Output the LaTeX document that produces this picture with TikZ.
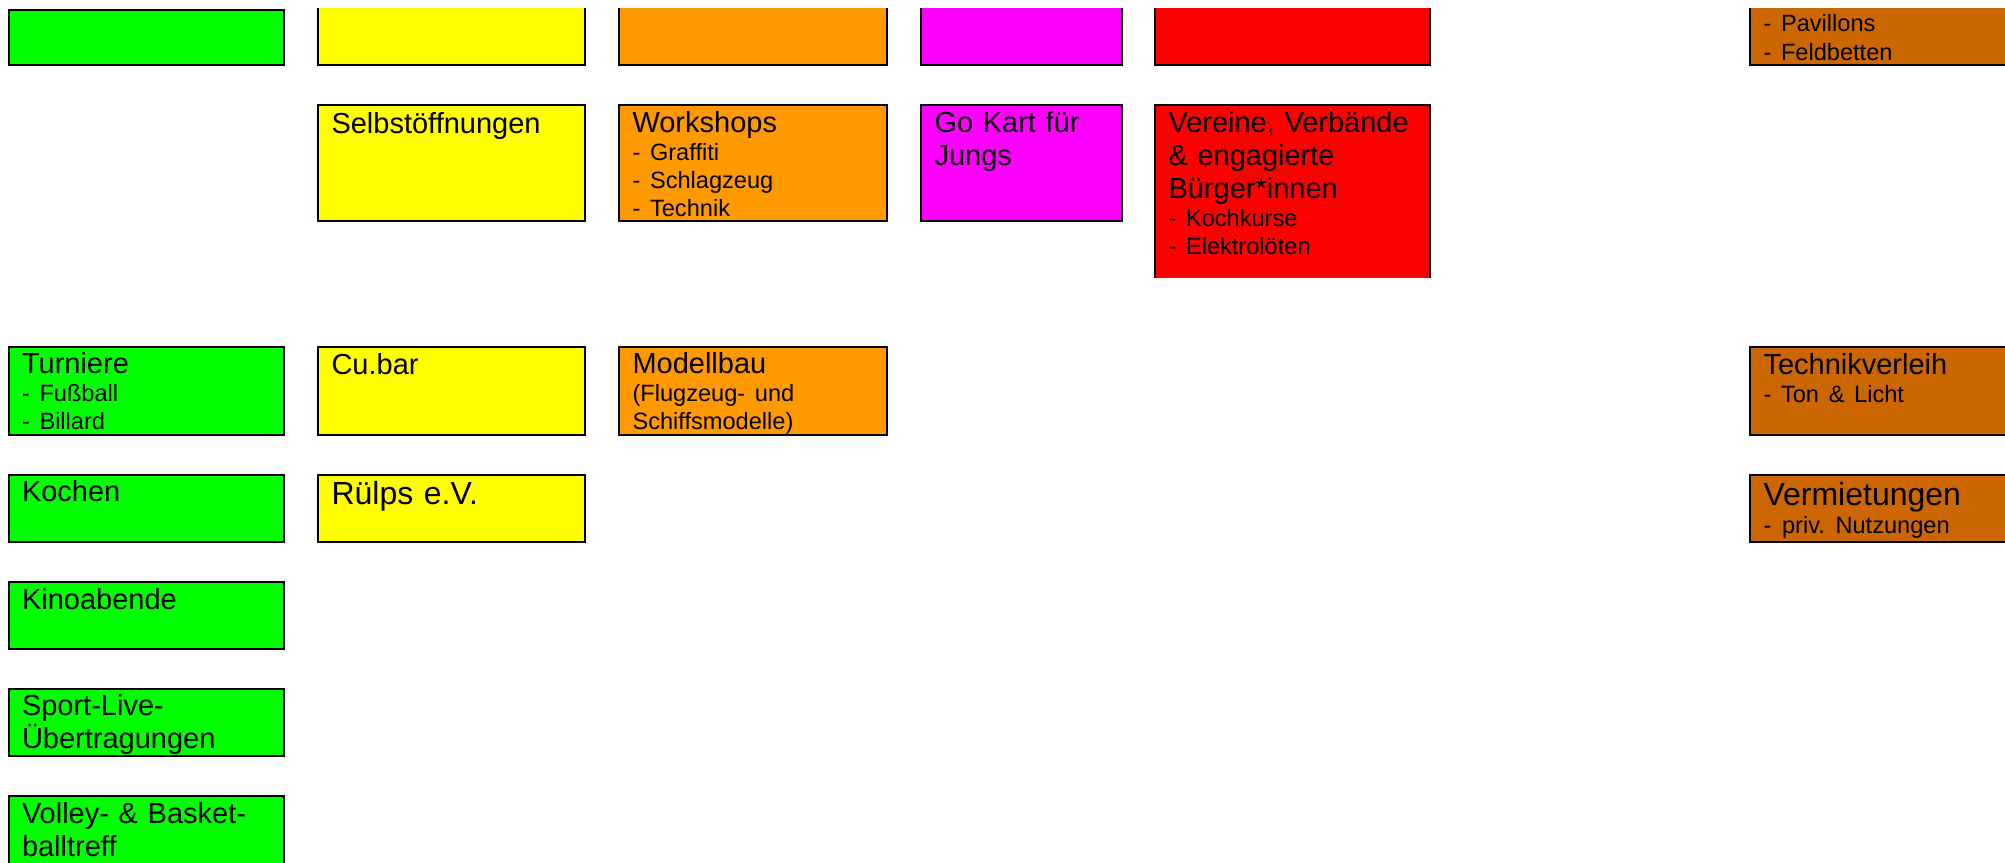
\documentclass[tikz,border=0pt]{standalone}
\usepackage{fontspec}
\setmainfont{Liberation Sans}
\usepackage{tikz}
\frenchspacing

\definecolor{cgreen}{HTML}{00FF00}
\definecolor{cyellow}{HTML}{FFFF00}
\definecolor{corange}{HTML}{FF9900}
\definecolor{cmagenta}{HTML}{FF00FF}
\definecolor{cred}{HTML}{FF0000}
\definecolor{cbrown}{HTML}{CC6600}
\newcommand{\bigtxt}{\fontsize{14.5pt}{16.5pt}\selectfont}
\newcommand{\smalltxt}{\fontsize{11.8pt}{14pt}\selectfont}
\newcommand{\hugetxt}{\fontsize{16pt}{18pt}\selectfont}

\begin{document}
\begin{tikzpicture}[x=0.5pt, y=-0.5pt,
    box/.style n args={3}{draw, line width=1pt, anchor=north west, outer sep=0pt,
      inner xsep=6.75pt, inner ysep=0pt, font=\bigtxt,
      text width={#1*0.5pt-13.5pt}, text height={#3*0.5pt}, text depth={(#2-#3)*0.5pt}}]

  \useasboundingbox (0,0) rectangle (2005,862);
  \clip (0,8) rectangle (2005,862);

  % top row, cut off by the page
  \node[box={275.5}{55.5}{27}, fill=cgreen] (topgreen) at (8.5,9.5) {};
  \node[box={267}{105}{27}, fill=cyellow] (topyellow) at (318,-40) {};
  \node[box={268}{105}{27}, fill=corange] (toporange) at (619,-40) {};
  \node[box={201}{105}{27}, fill=cmagenta] (topmagenta) at (921,-40) {};
  \node[box={275}{105}{27}, fill=cred] (topred) at (1155,-40) {};
  \node[box={290}{105}{72}, fill=cbrown] (topbrown) at (1750,-40) {\smalltxt - Pavillons\\- Feldbetten\par};

  % second row
  \node[box={267}{116}{28}, fill=cyellow] (selbst) at (318,105) {Selbstöffnungen};
  \node[box={268}{116}{27}, fill=corange] (workshops) at (619,105)
    {Workshops\par\smalltxt - Graffiti\\- Schlagzeug\\- Technik\par};
  \node[box={201}{116}{27}, fill=cmagenta] (gokart) at (921,105) {Go Kart für\\Jungs\par};
  \begin{scope}
    \clip (1100,0) rectangle (1500,277.5);
    \node[box={275}{200}{27}, fill=cred] (vereine) at (1155,105)
      {Vereine, Verbände\\\& engagierte\\Bürger*innen\par\smalltxt - Kochkurse\\- Elektrolöten\par};
  \end{scope}

  % lower rows
  \node[box={275.5}{88}{26}, fill=cgreen] (turniere) at (8.5,347)
    {Turniere\par\smalltxt - Fußball\\- Billard\par};
  \node[box={267}{88}{27}, fill=cyellow] (cubar) at (318,347) {Cu.bar};
  \node[box={268}{88}{26}, fill=corange] (modellbau) at (619,347)
    {Modellbau\par\smalltxt (Flugzeug- und\\Schiffsmodelle)\par};
  \node[box={290}{88}{27}, fill=cbrown] (technik) at (1750,347)
    {Technikverleih\par\smalltxt - Ton \& Licht\par};

  \node[box={275.5}{67}{26}, fill=cgreen] (kochen) at (8.5,475) {Kochen};
  \node[box={267}{67}{29}, fill=cyellow, font=\hugetxt] (ruelps) at (318,475) {Rülps e.V.};
  \node[box={290}{67}{30}, fill=cbrown, font=\hugetxt] (vermietung) at (1750,475)
    {Vermietungen\par\smalltxt - priv. Nutzungen\par};

  \node[box={275.5}{67}{27}, fill=cgreen] (kino) at (8.5,582) {Kinoabende};
  \node[box={275.5}{67}{26}, fill=cgreen] (sport) at (8.5,689) {Sport-Live-\\Übertragungen\par};
  \node[box={275.5}{100}{27}, fill=cgreen] (volley) at (8.5,796) {Volley- \& Basket-\\balltreff\par};

\end{tikzpicture}
\end{document}
